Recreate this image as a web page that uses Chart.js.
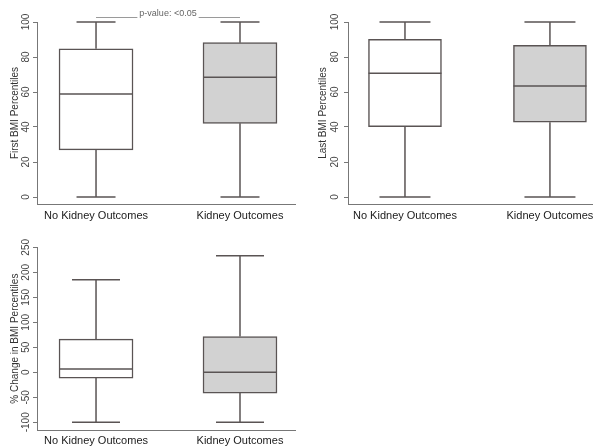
<!DOCTYPE html>
<html>
<head>
<meta charset="utf-8">
<script src="https://cdn.jsdelivr.net/npm/chart.js@4/dist/chart.umd.min.js"></script>
<style>
  body { margin: 0; background: #fff; }
  canvas { position: absolute; }
</style>
</head>
<body>
<canvas id="first" width="296" height="225" style="left:0;top:0"></canvas>
<canvas id="last" width="297" height="225" style="left:296px;top:0"></canvas>
<canvas id="change" width="296" height="222" style="left:0;top:225px"></canvas>
<script>
// groups and box stats: [min, q1, median, q3, max]
const groups = ['No Kidney Outcomes', 'Kidney Outcomes']
const firstBmi = [[0, 26.9, 58.9, 84.7, 100], [0, 42.1, 68.4, 88.2, 100]]
const lastBmi = [[0, 40.2, 70.7, 90.1, 100], [0, 42.7, 63.4, 86.7, 100]]
const changeBmi = [[-100, -11.6, 6.4, 66.4, 185], [-100, -41.6, 0, 71.6, 233]]
const pctTicks = [0, 20, 40, 60, 80, 100]
const changeTicks = [-100, -50, 0, 50, 100, 150, 200, 250]
const boxFill = ['#ffffff', '#d2d2d2']

const lineColor = '#5a5454'
const font = 'Liberation Sans, Arial, sans-serif'

const boxPlugin = {
    id: 'boxParts',
    afterDatasetsDraw(chart) {
        const opts = chart.options.plugins.boxParts
        const x = chart.scales.x, y = chart.scales.y
        const ctx = chart.ctx
        ctx.save()
        ctx.strokeStyle = lineColor
        ctx.lineWidth = 1.5
        opts.stats.forEach((s, i) => {
            const xp = x.getPixelForValue(i + 1)
            const half = opts.boxWidth / 2, cap = opts.cap / 2
            ctx.beginPath()
            ctx.moveTo(xp, y.getPixelForValue(s[3])); ctx.lineTo(xp, y.getPixelForValue(s[4]))
            ctx.moveTo(xp, y.getPixelForValue(s[1])); ctx.lineTo(xp, y.getPixelForValue(s[0]))
            ctx.moveTo(xp - cap, y.getPixelForValue(s[4])); ctx.lineTo(xp + cap, y.getPixelForValue(s[4]))
            ctx.moveTo(xp - cap, y.getPixelForValue(s[0])); ctx.lineTo(xp + cap, y.getPixelForValue(s[0]))
            ctx.moveTo(xp - half, y.getPixelForValue(s[2])); ctx.lineTo(xp + half, y.getPixelForValue(s[2]))
            ctx.stroke()
        })
        ctx.restore()
    },
    afterDraw(chart) {
        const opts = chart.options.plugins.boxParts
        const x = chart.scales.x, y = chart.scales.y
        const ctx = chart.ctx
        ctx.save()
        ctx.fillStyle = '#444'
        ctx.font = '10px ' + font
        ctx.textAlign = 'center'
        ctx.textBaseline = 'middle'
        for (const t of y.ticks) {
            ctx.save()
            ctx.translate(opts.tickX, y.getPixelForValue(t.value))
            ctx.rotate(-Math.PI / 2)
            ctx.fillText(String(t.value), 0, 0)
            ctx.restore()
        }
        if (opts.pvalue) {
            const x1 = x.getPixelForValue(1), x2 = x.getPixelForValue(2)
            ctx.strokeStyle = '#9a9a9a'
            ctx.lineWidth = 1
            ctx.beginPath()
            ctx.moveTo(x1, 17.5); ctx.lineTo(x2, 17.5)
            ctx.stroke()
            ctx.font = '9px ' + font
            const w = ctx.measureText(opts.pvalue).width
            const cx = (x1 + x2) / 2
            ctx.fillStyle = '#fff'
            ctx.fillRect(cx - w / 2 - 2, 8, w + 4, 10)
            ctx.fillStyle = '#666'
            ctx.fillText(opts.pvalue, cx, 13.5)
        }
        ctx.restore()
    }
}

function boxPanel(canvas, stats, ticks, p) {
    new Chart(canvas, {
        type: 'bar',
        data: {
            datasets: [{
                data: stats.map((s, i) => ({x: i + 1, y: [s[1], s[3]]})),
                backgroundColor: boxFill,
                borderColor: lineColor,
                borderWidth: 1.5,
                borderSkipped: false,
                barThickness: p.boxWidth
            }]
        },
        options: {
            responsive: false,
            animation: false,
            layout: {padding: {top: p.top, left: 0, right: 0, bottom: 0}},
            plugins: {
                legend: {display: false},
                tooltip: {enabled: false},
                boxParts: {stats: stats, boxWidth: p.boxWidth, cap: p.cap, tickX: p.tickX, pvalue: p.pvalue}
            },
            scales: {
                x: {
                    type: 'linear',
                    offset: false,
                    min: p.xMin,
                    max: p.xMax,
                    afterBuildTicks: (axis) => { axis.ticks = groups.map((g, i) => ({value: i + 1})) },
                    afterFit: (axis) => {
                        axis.height = p.xHeight
                        axis.paddingLeft = 0
                        axis.paddingRight = 0
                    },
                    ticks: {
                        autoSkip: false,
                        maxRotation: 0,
                        padding: p.labelPad,
                        color: '#1a1a1a',
                        font: {family: font, size: 11},
                        callback: (v) => groups[v - 1]
                    },
                    grid: {offset: false, drawOnChartArea: false, drawTicks: false},
                    border: {color: '#777', width: 1}
                },
                y: {
                    min: p.yMin,
                    max: p.yMax,
                    afterBuildTicks: (axis) => { axis.ticks = ticks.map(v => ({value: v})) },
                    afterFit: (axis) => { axis.width = p.axisLeft },
                    ticks: {display: false},
                    grid: {drawOnChartArea: false, drawTicks: true, tickLength: 4, color: '#777'},
                    border: {color: '#777', width: 1},
                    title: {
                        display: true,
                        text: p.title,
                        color: '#333',
                        font: {family: font, size: 10},
                        padding: {top: p.titlePad, bottom: 0}
                    }
                }
            }
        },
        plugins: [boxPlugin]
    })
}

boxPanel(document.getElementById('first'), firstBmi, pctTicks, {
    title: 'First BMI Percentiles', top: 22, xHeight: 21, axisLeft: 37,
    xMin: 0.59, xMax: 2.389, yMin: -4, yMax: 100, boxWidth: 74, cap: 39,
    tickX: 26, titlePad: 9, labelPad: 5, pvalue: 'p-value: <0.05'
})
boxPanel(document.getElementById('last'), lastBmi, pctTicks, {
    title: 'Last BMI Percentiles', top: 22, xHeight: 21, axisLeft: 52,
    xMin: 0.607, xMax: 2.297, yMin: -4, yMax: 100, boxWidth: 73, cap: 51,
    tickX: 39, titlePad: 21, labelPad: 5
})
boxPanel(document.getElementById('change'), changeBmi, changeTicks, {
    title: '% Change in BMI Percentiles', top: 22.3, xHeight: 17, axisLeft: 37,
    xMin: 0.59, xMax: 2.389, yMin: -115.4, yMax: 250, boxWidth: 74, cap: 48,
    tickX: 26, titlePad: 9, labelPad: 4
})
</script>
</body>
</html>
